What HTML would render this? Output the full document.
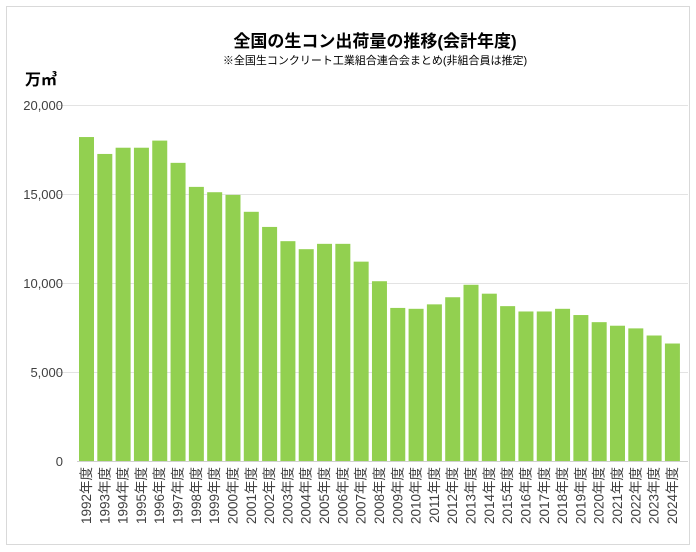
<!DOCTYPE html>
<html><head><meta charset="utf-8"><style>
body{margin:0;background:#fff;}
svg{display:block;font-family:"Liberation Sans","Noto Sans CJK JP",sans-serif;}
</style></head><body>
<svg width="696" height="552" viewBox="0 0 696 552">
<rect x="6.5" y="6.5" width="683" height="538" fill="#fff" stroke="#d9d9d9"/>
<text x="375" y="47" font-size="17" text-anchor="middle" fill="#000" font-weight="bold">全国の生コン出荷量の推移(会計年度)</text>
<text x="375" y="64" font-size="11" text-anchor="middle" fill="#000">※全国生コンクリート工業組合連合会まとめ(非組合員は推定)</text>
<text x="25" y="85" font-size="16" font-weight="bold" fill="#000">万㎥</text>
<g stroke="#e3e3e3" stroke-width="1">
<line x1="58" x2="688" y1="105.5" y2="105.5"/>
<line x1="58" x2="688" y1="194.5" y2="194.5"/>
<line x1="58" x2="688" y1="283.5" y2="283.5"/>
<line x1="58" x2="688" y1="372.5" y2="372.5"/>
<line x1="77" x2="688" y1="461.5" y2="461.5" stroke="#d0d0d0"/>
</g>
<g font-size="13" fill="#404040" text-anchor="end">
<text x="63" y="110">20,000</text>
<text x="63" y="199">15,000</text>
<text x="63" y="288">10,000</text>
<text x="63" y="377">5,000</text>
<text x="63" y="466">0</text>
</g>
<g fill="#92d050">
<rect x="79" y="137.04" width="15" height="323.96"/>
<rect x="97.31" y="153.95" width="15" height="307.05"/>
<rect x="115.62" y="147.72" width="15" height="313.28"/>
<rect x="133.93" y="147.72" width="15" height="313.28"/>
<rect x="152.24" y="140.6" width="15" height="320.4"/>
<rect x="170.55" y="162.85" width="15" height="298.15"/>
<rect x="188.86" y="186.88" width="15" height="274.12"/>
<rect x="207.17" y="192.22" width="15" height="268.78"/>
<rect x="225.48" y="194.89" width="15" height="266.11"/>
<rect x="243.79" y="211.8" width="15" height="249.2"/>
<rect x="262.1" y="226.93" width="15" height="234.07"/>
<rect x="280.41" y="241.17" width="15" height="219.83"/>
<rect x="298.72" y="249.18" width="15" height="211.82"/>
<rect x="317.03" y="243.84" width="15" height="217.16"/>
<rect x="335.34" y="243.84" width="15" height="217.16"/>
<rect x="353.65" y="261.64" width="15" height="199.36"/>
<rect x="371.96" y="281.22" width="15" height="179.78"/>
<rect x="390.27" y="307.92" width="15" height="153.08"/>
<rect x="408.58" y="308.81" width="15" height="152.19"/>
<rect x="426.89" y="304.36" width="15" height="156.64"/>
<rect x="445.2" y="297.24" width="15" height="163.76"/>
<rect x="463.51" y="284.78" width="15" height="176.22"/>
<rect x="481.82" y="293.68" width="15" height="167.32"/>
<rect x="500.13" y="306.14" width="15" height="154.86"/>
<rect x="518.44" y="311.48" width="15" height="149.52"/>
<rect x="536.75" y="311.48" width="15" height="149.52"/>
<rect x="555.06" y="308.81" width="15" height="152.19"/>
<rect x="573.37" y="315.04" width="15" height="145.96"/>
<rect x="591.68" y="322.16" width="15" height="138.84"/>
<rect x="609.99" y="325.72" width="15" height="135.28"/>
<rect x="628.3" y="328.39" width="15" height="132.61"/>
<rect x="646.61" y="335.51" width="15" height="125.49"/>
<rect x="664.92" y="343.52" width="15" height="117.48"/>
</g>
<g font-size="13.5" fill="#404040" text-anchor="end">
<text transform="translate(91,467) rotate(-90)">1992年度</text>
<text transform="translate(109.31,467) rotate(-90)">1993年度</text>
<text transform="translate(127.62,467) rotate(-90)">1994年度</text>
<text transform="translate(145.93,467) rotate(-90)">1995年度</text>
<text transform="translate(164.24,467) rotate(-90)">1996年度</text>
<text transform="translate(182.55,467) rotate(-90)">1997年度</text>
<text transform="translate(200.86,467) rotate(-90)">1998年度</text>
<text transform="translate(219.17,467) rotate(-90)">1999年度</text>
<text transform="translate(237.48,467) rotate(-90)">2000年度</text>
<text transform="translate(255.79,467) rotate(-90)">2001年度</text>
<text transform="translate(274.1,467) rotate(-90)">2002年度</text>
<text transform="translate(292.41,467) rotate(-90)">2003年度</text>
<text transform="translate(310.72,467) rotate(-90)">2004年度</text>
<text transform="translate(329.03,467) rotate(-90)">2005年度</text>
<text transform="translate(347.34,467) rotate(-90)">2006年度</text>
<text transform="translate(365.65,467) rotate(-90)">2007年度</text>
<text transform="translate(383.96,467) rotate(-90)">2008年度</text>
<text transform="translate(402.27,467) rotate(-90)">2009年度</text>
<text transform="translate(420.58,467) rotate(-90)">2010年度</text>
<text transform="translate(438.89,467) rotate(-90)">2011年度</text>
<text transform="translate(457.2,467) rotate(-90)">2012年度</text>
<text transform="translate(475.51,467) rotate(-90)">2013年度</text>
<text transform="translate(493.82,467) rotate(-90)">2014年度</text>
<text transform="translate(512.13,467) rotate(-90)">2015年度</text>
<text transform="translate(530.44,467) rotate(-90)">2016年度</text>
<text transform="translate(548.75,467) rotate(-90)">2017年度</text>
<text transform="translate(567.06,467) rotate(-90)">2018年度</text>
<text transform="translate(585.37,467) rotate(-90)">2019年度</text>
<text transform="translate(603.68,467) rotate(-90)">2020年度</text>
<text transform="translate(621.99,467) rotate(-90)">2021年度</text>
<text transform="translate(640.3,467) rotate(-90)">2022年度</text>
<text transform="translate(658.61,467) rotate(-90)">2023年度</text>
<text transform="translate(676.92,467) rotate(-90)">2024年度</text>
</g>
</svg>
</body></html>
